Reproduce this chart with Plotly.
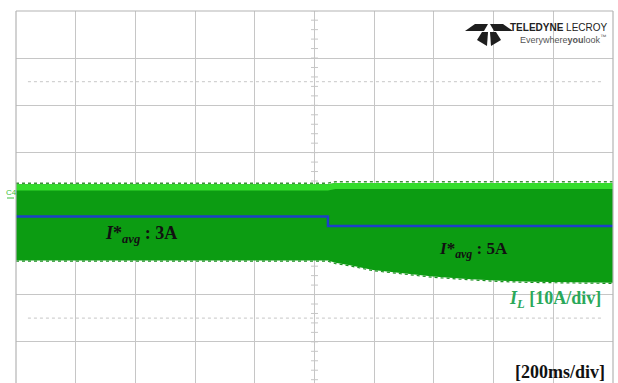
import plotly.graph_objects as go

# ---- data -------------------------------------------------------------
# time axis: 200 ms/div, 10 divisions, trigger at the centre
time_ms = [-1000, 45, 70, 119, 196, 287, 397, 511, 622, 732, 1000]
# inductor current envelope (A, 10 A/div, positive downward on screen)
env_upper = [-3.8, -3.8, -4.1, -4.1, -4.1, -4.1, -4.1, -4.1, -4.1, -4.1, -4.1]
env_lower = [12.3, 12.3, 12.8, 13.3, 14.3, 15.0, 15.7, 16.2, 16.6, 16.8, 17.0]

# average current reference
ref_time_ms = [-1000, 45, 45, 1000]
ref_current = [3, 3, 5, 5]

# screen graticule
x_div_ms = [-1000 + 200 * k for k in range(11)]
y_center = -0.5
y_div_a = [y_center + 10 * k for k in range(-4, 5)]
y_minor_a = [y_center + 2 * k for k in range(-20, 20)]
cursor_levels = [y_center - 25, y_center + 25]

DARK_GREEN = "#0c9c12"
LIGHT_GREEN = "#34dc2c"
GRID = "#c6c6c6"
SERIF = "Liberation Serif, Times New Roman, serif"
SANS = "Liberation Sans, Arial, sans-serif"

W, H = 618, 383
ML, MR, MT, MB = 16, 5, 11, 0
PW, PH = W - ML - MR, H - MT - MB


def px(x):
    return (x - ML) / PW


def py(y):
    return (H - MB - y) / PH


fig = go.Figure()

# minor ticks on the vertical centre line
fig.add_trace(go.Scatter(
    x=[0] * len(y_minor_a), y=y_minor_a, mode="markers",
    marker=dict(symbol="line-ew", size=5, line=dict(width=1, color=GRID)),
    hoverinfo="skip", showlegend=False))

# cursor levels (dotted)
for lvl in cursor_levels:
    fig.add_trace(go.Scatter(
        x=[-960, 960], y=[lvl, lvl], mode="lines",
        line=dict(color="#d2d2d2", width=1.2, dash="dot"),
        hoverinfo="skip", showlegend=False))

# current band: dark body
fig.add_trace(go.Scatter(
    x=time_ms, y=env_lower, mode="lines", line=dict(width=0, color=DARK_GREEN),
    hoverinfo="skip", showlegend=False))
fig.add_trace(go.Scatter(
    x=time_ms, y=env_upper, mode="lines", fill="tonexty",
    fillcolor=DARK_GREEN, line=dict(width=0, color=DARK_GREEN),
    hoverinfo="skip", showlegend=False))

# bright crest along the top of the band
stripe = 1.3
fig.add_trace(go.Scatter(
    x=time_ms, y=[u + stripe for u in env_upper], mode="lines",
    line=dict(width=0, color=LIGHT_GREEN), hoverinfo="skip", showlegend=False))
fig.add_trace(go.Scatter(
    x=time_ms, y=env_upper, mode="lines", fill="tonexty",
    fillcolor=LIGHT_GREEN, line=dict(width=0, color=LIGHT_GREEN),
    hoverinfo="skip", showlegend=False))

# ragged edges of the switching ripple
fig.add_trace(go.Scatter(
    x=time_ms, y=[u - 0.25 for u in env_upper], mode="lines",
    line=dict(width=1.5, color="#3f8f3a", dash="dot"),
    hoverinfo="skip", showlegend=False))
fig.add_trace(go.Scatter(
    x=time_ms, y=[l + 0.15 for l in env_lower], mode="lines",
    line=dict(width=1.2, color="#1a8f1f", dash="dot"),
    hoverinfo="skip", showlegend=False))

# reference step
fig.add_trace(go.Scatter(
    x=ref_time_ms, y=ref_current, mode="lines",
    line=dict(color="#1c3fc8", width=2.4),
    hoverinfo="skip", showlegend=False))

annotations = [
    dict(x=-710, y=6.9, text="<b><i>I</i>*<sub><i>avg</i></sub> : 3A</b>",
         xanchor="left", yanchor="middle", font=dict(family=SERIF, size=18, color="#111111")),
    dict(x=410, y=10.0, text="<b><i>I</i>*<sub><i>avg</i></sub> : 5A</b>",
         xanchor="left", yanchor="middle", font=dict(family=SERIF, size=17, color="#111111")),
    dict(x=968, y=20.6, text="<b><i>I<sub>L</sub></i> [10A/div]</b>",
         xanchor="right", yanchor="middle", font=dict(family=SERIF, size=18, color="#2aa85a")),
    dict(x=980, y=35.9, text="<b>[200ms/div]</b>",
         xanchor="right", yanchor="middle", font=dict(family=SERIF, size=18, color="#111111")),
    # channel marker
    dict(x=px(11), y=py(192), xref="paper", yref="paper", text="C4", showarrow=False,
         xanchor="center", yanchor="middle", font=dict(family=SANS, size=8, color="#3cbf3c")),
    # brand mark
    dict(x=px(610), y=py(28), xref="paper", yref="paper",
         text="<b>TELEDYNE</b> LECROY", xanchor="right", yanchor="middle",
         font=dict(family=SANS, size=10, color="#222222")),
    dict(x=px(608), y=py(39), xref="paper", yref="paper",
         text="Everywhere<b>you</b>look<sup>™</sup>", xanchor="right", yanchor="middle",
         font=dict(family=SANS, size=9, color="#555555")),
]
for a in annotations:
    a.setdefault("showarrow", False)

# logo glyph
def poly(points):
    return "M " + " L ".join(f"{px(x):.5f},{py(y):.5f}" for x, y in points) + " Z"

logo_parts = [
    [(465, 31), (475, 24), (488, 24), (484, 31)],
    [(513, 31), (503, 24), (490, 24), (494, 31)],
    [(482, 32), (488, 32), (487, 46), (477, 40)],
    [(496, 32), (490, 32), (491, 46), (501, 40)],
]
shapes = [dict(type="path", path=poly(p), xref="paper", yref="paper",
               fillcolor="#1e1e1e", line=dict(width=0)) for p in logo_parts]

# frame (bottom edge lies below the visible area)
frame = dict(color="#b4b4b4", width=1.2)
shapes += [
    dict(type="line", xref="paper", yref="paper", x0=0, x1=0, y0=0, y1=1, line=frame),
    dict(type="line", xref="paper", yref="paper", x0=1, x1=1, y0=0, y1=1, line=frame),
    dict(type="line", xref="paper", yref="paper", x0=0, x1=1, y0=1, y1=1, line=frame),
    dict(type="line", xref="paper", yref="paper", x0=px(7), x1=px(14), y0=py(198), y1=py(198),
         line=dict(color="#3cbf3c", width=1)),
]

fig.update_layout(
    width=W, height=H,
    margin=dict(l=ML, r=MR, t=MT, b=MB),
    paper_bgcolor="white", plot_bgcolor="white",
    annotations=annotations, shapes=shapes,
    xaxis=dict(range=[-1000, 1000], tickvals=x_div_ms, showticklabels=False,
               ticks="", showgrid=True, gridcolor=GRID, gridwidth=1,
               zeroline=False, showline=False, fixedrange=True),
    yaxis=dict(range=[38.2, -40.44], tickvals=y_div_a, showticklabels=False,
               ticks="", showgrid=True, gridcolor=GRID, gridwidth=1,
               zeroline=False, showline=False, fixedrange=True),
)

fig.write_html("out.html")
